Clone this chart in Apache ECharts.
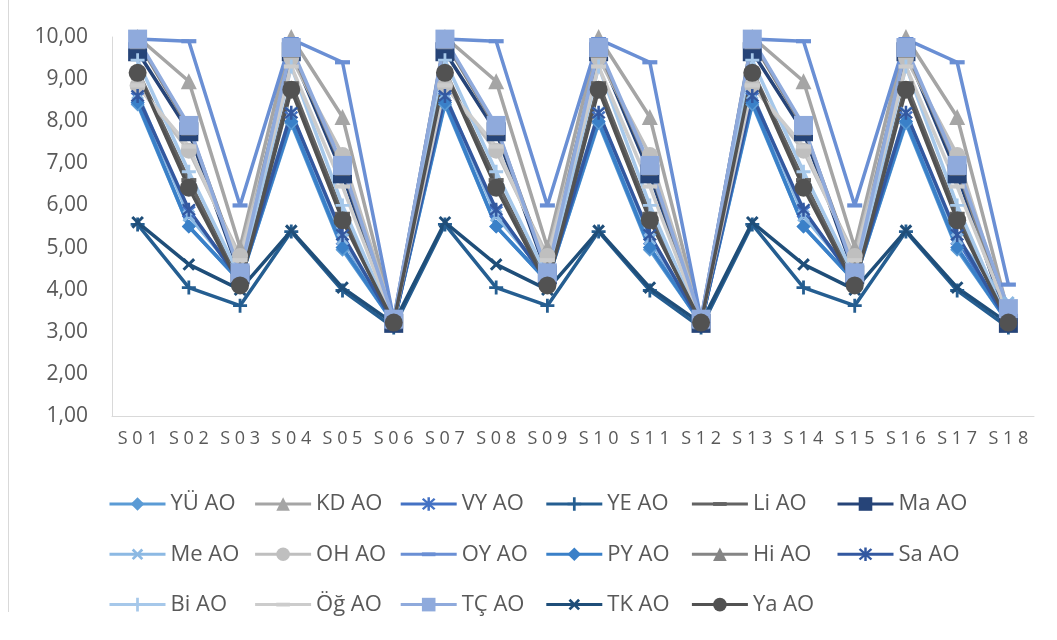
<!DOCTYPE html>
<html>
<head>
<meta charset="utf-8">
<script src="https://cdn.jsdelivr.net/npm/echarts@6/dist/echarts.min.js"></script>
<style>html,body{margin:0;padding:0;background:#fff;}#c{width:1057px;height:640px;}</style>
</head>
<body>
<div id="c"></div>
<script>
// ---- data ----
var categories = ['S01','S02','S03','S04','S05','S06','S07','S08','S09','S10','S11','S12','S13','S14','S15','S16','S17','S18'];
var yTicks = [1,2,3,4,5,6,7,8,9,10];
var names = ['YÜ AO','KD AO','VY AO','YE AO','Li AO','Ma AO','Me AO','OH AO','OY AO','PY AO','Hi AO','Sa AO','Bi AO','Öğ AO','TÇ AO','TK AO','Ya AO'];

var YU = [8.40,5.50,4.20,7.95,4.95,3.20, 8.40,5.50,4.20,7.95,4.95,3.20, 8.40,5.50,4.20,7.95,4.95,3.20];
var KD = [10.00,8.95,5.00,10.00,8.10,3.25, 10.00,8.95,5.00,10.00,8.10,3.25, 10.00,8.95,5.00,10.00,8.10,3.45];
var VY = [8.55,5.85,4.25,8.10,5.20,3.20, 8.55,5.85,4.25,8.10,5.20,3.20, 8.55,5.85,4.25,8.10,5.20,3.20];
var YE = [5.55,4.05,3.62,5.38,3.98,3.10, 5.55,4.05,3.62,5.38,3.98,3.10, 5.55,4.05,3.62,5.38,3.98,3.10];
var LI = [9.20,6.60,4.15,8.90,5.80,3.20, 9.20,6.60,4.15,8.90,5.80,3.20, 9.20,6.60,4.15,8.90,5.80,3.20];
var MA = [9.65,7.75,4.35,9.65,6.75,3.20, 9.65,7.75,4.35,9.65,6.75,3.20, 9.65,7.75,4.35,9.65,6.75,3.20];
var ME = [8.65,5.75,4.30,8.20,5.20,3.25, 8.65,5.75,4.30,8.20,5.20,3.25, 8.65,5.75,4.30,8.20,5.20,3.70];
var OH = [8.85,7.30,4.80,9.50,7.20,3.30, 8.85,7.30,4.80,9.50,7.20,3.30, 8.85,7.30,4.80,9.50,7.20,3.30];
var OY = [9.95,9.90,6.00,9.95,9.40,3.30, 9.95,9.90,6.00,9.95,9.40,3.30, 9.95,9.90,6.00,9.95,9.40,4.12];
var PY = [8.45,5.50,4.20,8.00,5.00,3.20, 8.45,5.50,4.20,8.00,5.00,3.20, 8.45,5.50,4.20,8.00,5.00,3.20];
var HI = [9.90,7.85,4.50,9.70,6.90,3.25, 9.90,7.85,4.50,9.70,6.90,3.25, 9.90,7.85,4.50,9.70,6.90,3.30];
var SA = [8.60,5.90,4.20,8.20,5.30,3.20, 8.60,5.90,4.20,8.20,5.30,3.20, 8.60,5.90,4.20,8.20,5.30,3.20];
var BI = [9.45,6.80,4.30,9.30,6.00,3.20, 9.45,6.80,4.30,9.30,6.00,3.20, 9.45,6.80,4.30,9.30,6.00,3.20];
var OG = [8.85,7.40,4.70,9.30,6.45,3.25, 8.85,7.40,4.70,9.30,6.45,3.25, 8.85,7.40,4.70,9.30,6.45,3.40];
var TC = [9.95,7.90,4.40,9.75,6.95,3.30, 9.95,7.90,4.40,9.75,6.95,3.30, 9.95,7.90,4.40,9.75,6.95,3.55];
var TK = [5.60,4.60,4.00,5.40,4.05,3.20, 5.60,4.60,4.00,5.40,4.05,3.20, 5.60,4.60,4.00,5.40,4.05,3.20];
var YA = [9.15,6.42,4.10,8.75,5.65,3.22, 9.15,6.42,4.10,8.75,5.65,3.22, 9.15,6.42,4.10,8.75,5.65,3.22];

var values = [YU,KD,VY,YE,LI,MA,ME,OH,OY,PY,HI,SA,BI,OG,TC,TK,YA];
var colors = ['#5B9BD5','#A5A5A5','#4472C4','#255E91','#636363','#264478','#8CB9E3','#BFBFBF','#6A8FD4','#3A80C8','#858585','#3358A0','#A6C8EA','#CCCCCC','#8FAADC','#1F4E79','#525252'];

// ---- marker shapes ----
var PLUS = 'path://M4,0 H6 V4 H10 V6 H6 V10 H4 V6 H0 V4 H4 Z';
var STAR = 'path://M4.2,0 H5.8 V10 H4.2 Z M0.6,1.7 L1.7,0.6 L9.4,8.3 L8.3,9.4 Z M8.3,0.6 L9.4,1.7 L1.7,9.4 L0.6,8.3 Z';
var DASH = 'path://M0,0 M10,10 M0,3.6 H10 V6.4 H0 Z';
var markers = [
  {s:'diamond', z:14, r:0},
  {s:'triangle', z:16, r:0},
  {s:STAR, z:14, r:0},
  {s:PLUS, z:14, r:0},
  {s:DASH, z:15, r:0},
  {s:'rect', z:19, r:0},
  {s:PLUS, z:15, r:45},
  {s:'circle', z:16, r:0},
  {s:DASH, z:15, r:0},
  {s:'diamond', z:14, r:0},
  {s:'triangle', z:16, r:0},
  {s:STAR, z:14, r:0},
  {s:PLUS, z:14, r:0},
  {s:DASH, z:15, r:0},
  {s:'rect', z:19, r:0},
  {s:PLUS, z:15, r:45},
  {s:'circle', z:18, r:0}
];

var FONT = 'Open Sans';
var series = names.map(function(n,i){
  return {
    name:n, type:'line', data:values[i],
    symbol:markers[i].s, symbolSize:markers[i].z, symbolRotate:markers[i].r,
    showAllSymbol:true,
    lineStyle:{color:colors[i], width:3.5},
    itemStyle:{color:colors[i]},
    emphasis:{disabled:true},
    animation:false
  };
});

var legends = names.map(function(n,i){
  return {
    data:[n], left:108 + (i%6)*145.6, top:493 + Math.floor(i/6)*50.3,
    padding:0, itemWidth:56, itemHeight:17, itemGap:0,
    lineStyle:{width:3},
    textStyle:{fontFamily:FONT, fontSize:22, color:'#595959'},
    selectedMode:false
  };
});

var chart = echarts.init(document.getElementById('c'), null, {renderer:'canvas'});
chart.setOption({
  backgroundColor:'#ffffff',
  animation:false,
  grid:{left:112, right:23, top:37, bottom:224, containLabel:false},
  xAxis:{
    type:'category', data:categories, boundaryGap:true,
    axisLine:{lineStyle:{color:'#D9D9D9', width:1}},
    axisTick:{show:false},
    axisLabel:{fontFamily:FONT, fontSize:18, color:'#595959', margin:14, interval:0,
      formatter:function(v){return v.split('').join(' ');}}
  },
  yAxis:{
    type:'value', min:yTicks[0], max:yTicks[yTicks.length-1], interval:1,
    splitLine:{show:false},
    axisLine:{show:true, lineStyle:{color:'#D9D9D9', width:1}},
    axisTick:{show:false},
    axisLabel:{fontFamily:FONT, fontSize:21, color:'#595959', margin:24,
      formatter:function(v){return v.toFixed(2).replace('.', ',');}}
  },
  legend:legends,
  graphic:[{type:'line', shape:{x1:8.5,y1:0,x2:8.5,y2:612}, style:{stroke:'#D9D9D9', lineWidth:1}, silent:true}],
  series:series
});
</script>
</body>
</html>
